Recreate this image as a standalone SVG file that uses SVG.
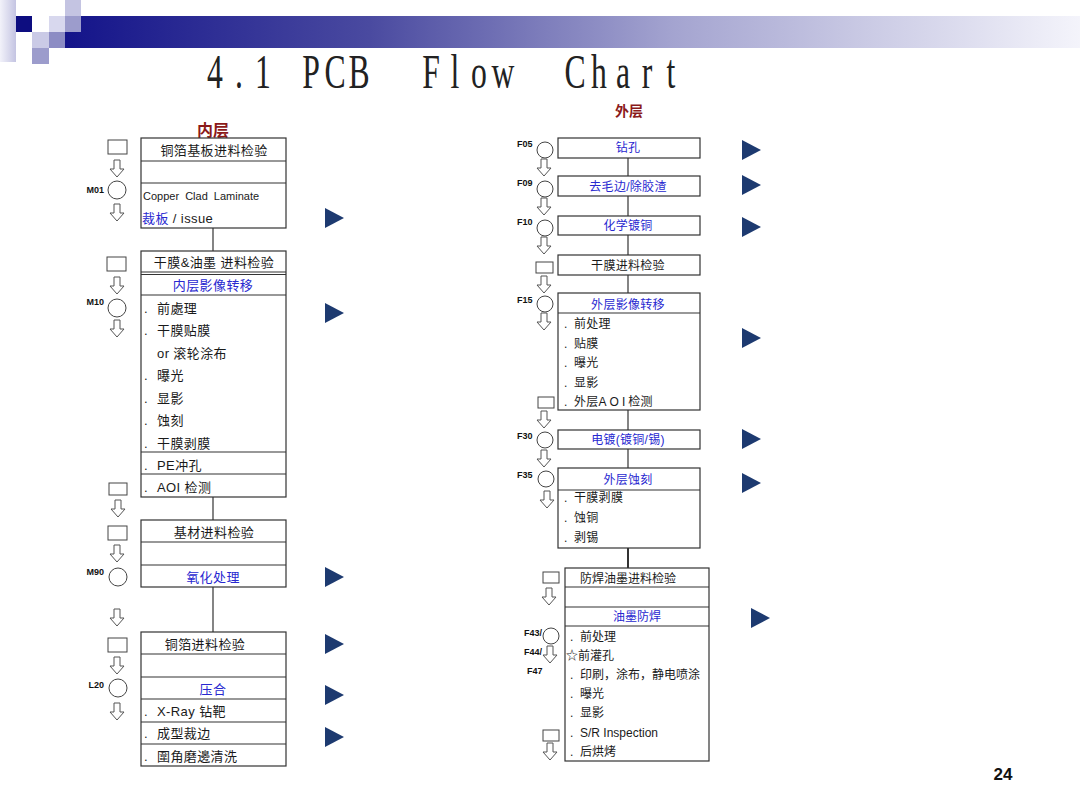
<svg xmlns="http://www.w3.org/2000/svg" width="1080" height="810" viewBox="0 0 1080 810">
<defs>
<linearGradient id="band" x1="0" y1="0" x2="1" y2="0">
<stop offset="0" stop-color="#14148a"/>
<stop offset="0.3" stop-color="#4a4aa0"/>
<stop offset="0.6" stop-color="#a4a4d0"/>
<stop offset="1" stop-color="#f4f4fb"/>
</linearGradient>
<linearGradient id="strip" x1="0" y1="0" x2="1" y2="0">
<stop offset="0" stop-color="#f2f2fa"/>
<stop offset="1" stop-color="#c4c4e2"/>
</linearGradient>
<path id="darr" d="M-3,-9 h6 v9 h4 l-7,8 l-7,-8 h4 z" fill="#fff" stroke="#555" stroke-width="1"/>
<path id="tri" d="M0,-10 L19,0 L0,10 z" fill="#1d3a70"/>
</defs>
<style>
.t{font-family:"Liberation Sans","Noto Sans CJK SC",sans-serif;fill:#1a1a1a}
.l{font-size:13px;letter-spacing:0.4px}
.r{font-size:12px;letter-spacing:0.3px}
.f{font-size:12px}
.b{fill:#2828d0}
.c{text-anchor:middle}
.lab{font-family:"Liberation Sans",sans-serif;font-size:9px;font-weight:bold;fill:#111}
.box{fill:#fff;stroke:#333;stroke-width:1.2}
.ln{stroke:#333;stroke-width:1.2;fill:none}
.sq{fill:#fff;stroke:#444;stroke-width:1}
.ci{fill:#fff;stroke:#444;stroke-width:1}
.hd{font-family:"Liberation Sans","Noto Sans CJK SC",sans-serif;font-weight:bold;fill:#8b1a1a;text-anchor:middle}
</style>
<rect width="1080" height="810" fill="#fff"/>
<!-- decoration -->
<g id="decoration">
<rect x="0" y="0" width="16" height="62" fill="url(#strip)"/>
<rect x="65" y="16" width="1015" height="32" fill="url(#band)"/>
<rect x="65" y="0" width="16" height="16" fill="#c4c4e2"/>
<rect x="16" y="16" width="16" height="16" fill="#0d0d80"/>
<rect x="49" y="16" width="16" height="16" fill="#d8d8ee"/>
<rect x="65" y="16" width="16" height="16" fill="#9c9ccc"/>
<rect x="32" y="32" width="17" height="16" fill="#cacae6"/>
<rect x="49" y="32" width="16" height="16" fill="#8c8cc4"/>
<rect x="32" y="48" width="17" height="16" fill="#9c9ccc"/>
</g>
<g id="title" font-family="'Liberation Serif',serif" font-size="48" fill="#222" text-anchor="middle">
<text transform="scale(0.66,1)" y="88" x="325.76 362.12 398.48 471.21 507.58 543.94 653.03 689.39 725.76 762.12 871.21 907.58 943.94 980.30 1016.67">4.1PCBFlowChart</text>
</g>
<text class="hd" x="213" y="136" font-size="16">内层</text>
<text class="hd" x="629" y="116" font-size="14">外层</text>
<text x="1003" y="780" font-family="'Liberation Sans',sans-serif" font-size="17" font-weight="bold" fill="#111" text-anchor="middle">24</text>

<!-- connectors -->
<g id="connectors" class="ln">
<line x1="213" y1="228" x2="213" y2="251"/>
<line x1="213" y1="497" x2="213" y2="520"/>
<line x1="213" y1="587" x2="213" y2="632"/>
<line x1="213" y1="161" x2="213" y2="183"/>
<line x1="213" y1="542" x2="213" y2="565"/>
<line x1="213" y1="654" x2="213" y2="677"/>
<line x1="628" y1="158" x2="628" y2="176"/>
<line x1="628" y1="196" x2="628" y2="216"/>
<line x1="628" y1="235" x2="628" y2="255"/>
<line x1="628" y1="275" x2="628" y2="293"/>
<line x1="628" y1="410" x2="628" y2="430"/>
<line x1="628" y1="449" x2="628" y2="468"/>
<line x1="628" y1="548" x2="628" y2="568" stroke-width="2"/>
<line x1="629" y1="587" x2="629" y2="607"/>
</g>

<!-- LEFT column -->
<g id="L1">
<rect class="box" x="141" y="138" width="145" height="90"/>
<path class="ln" d="M141,161 H286 M141,183 H286"/>
<text class="t l c" x="214" y="155">铜箔基板进料检验</text>
<text class="t" x="143" y="200" font-size="11" word-spacing="3">Copper Clad Laminate</text>
<text class="t l" x="142" y="223"><tspan class="b">裁板</tspan> / issue</text>
</g>
<g id="L2">
<rect class="box" x="141" y="251" width="145" height="246"/>
<path class="ln" d="M141,272 H286 M141,274.5 H286 M141,295 H286 M141,452 H286 M141,474 H286"/>
<text class="t l c" x="214" y="267">干膜&amp;油墨 进料检验</text>
<text class="t l c b" x="213" y="290">内层影像转移</text>
<g class="t l">
<text x="144" y="313">.</text><text x="157" y="313">前處理</text>
<text x="144" y="335">.</text><text x="157" y="335">干膜贴膜</text>
<text x="157" y="358">or 滚轮涂布</text>
<text x="144" y="380">.</text><text x="157" y="380">曝光</text>
<text x="144" y="403">.</text><text x="157" y="403">显影</text>
<text x="144" y="425">.</text><text x="157" y="425">蚀刻</text>
<text x="144" y="448">.</text><text x="157" y="448">干膜剥膜</text>
<text x="144" y="470">.</text><text x="157" y="470">PE冲孔</text>
<text x="144" y="492">.</text><text x="157" y="492">AOI 检测</text>
</g>
</g>
<g id="L3">
<rect class="box" x="141" y="520" width="145" height="67"/>
<path class="ln" d="M141,542 H286 M141,565 H286"/>
<text class="t l c" x="214" y="537">基材进料检验</text>
<text class="t l c b" x="213" y="582">氧化处理</text>
</g>
<g id="L4">
<rect class="box" x="141" y="632" width="145" height="134"/>
<path class="ln" d="M141,654 H286 M141,677 H286 M141,699 H286 M141,722 H286 M141,744 H286"/>
<text class="t l c" x="205" y="649">铜箔进料检验</text>
<text class="t l c b" x="213" y="694">压合</text>
<g class="t l">
<text x="144" y="716">.</text><text x="157" y="716">X-Ray 钻靶</text>
<text x="144" y="738">.</text><text x="157" y="738">成型裁边</text>
<text x="144" y="761">.</text><text x="157" y="761">圍角磨邊清洗</text>
</g>
</g>
<!-- left symbols -->
<g id="L-symbols">
<rect class="sq" x="108" y="140" width="19" height="14"/>
<use href="#darr" x="117" y="169"/>
<circle class="ci" cx="117" cy="190" r="9"/>
<text class="lab" x="104" y="193" text-anchor="end">M01</text>
<use href="#darr" x="117" y="213"/>
<rect class="sq" x="107" y="257" width="19" height="14"/>
<use href="#darr" x="117" y="286"/>
<circle class="ci" cx="117" cy="308" r="9"/>
<text class="lab" x="104" y="305" text-anchor="end">M10</text>
<use href="#darr" x="117" y="329"/>
<rect class="sq" x="109" y="483" width="18" height="12"/>
<use href="#darr" x="118" y="509"/>
<rect class="sq" x="108" y="526" width="19" height="14"/>
<use href="#darr" x="117" y="554"/>
<circle class="ci" cx="118" cy="577" r="9"/>
<text class="lab" x="104" y="575" text-anchor="end">M90</text>
<use href="#darr" x="117" y="618"/>
<rect class="sq" x="108" y="638" width="19" height="14"/>
<use href="#darr" x="117" y="666"/>
<circle class="ci" cx="118" cy="688" r="9"/>
<text class="lab" x="104" y="688" text-anchor="end">L20</text>
<use href="#darr" x="117" y="712"/>
</g>
<g id="L-markers">
<use href="#tri" x="325" y="218"/>
<use href="#tri" x="325" y="313"/>
<use href="#tri" x="325" y="577"/>
<use href="#tri" x="325" y="644"/>
<use href="#tri" x="325" y="695"/>
<use href="#tri" x="325" y="737"/>
</g>

<!-- RIGHT column -->
<g id="F05"><rect class="box" x="558" y="138" width="142" height="20"/><text class="t r c b" x="628" y="152">钻孔</text></g>
<g id="F09"><rect class="box" x="558" y="176" width="142" height="20"/><text class="t r c b" x="628" y="191">去毛边/除胶渣</text></g>
<g id="F10"><rect class="box" x="558" y="216" width="142" height="19"/><text class="t r c b" x="628" y="230">化学镀铜</text></g>
<g id="R-dry"><rect class="box" x="558" y="255" width="142" height="20"/><text class="t r c" x="628" y="270">干膜进料检验</text></g>
<g id="F15">
<rect class="box" x="558" y="293" width="142" height="117"/>
<path class="ln" d="M558,313 H700"/>
<text class="t r c b" x="628" y="309">外层影像转移</text>
<g class="t r">
<text x="564" y="328">.</text><text x="574" y="328">前处理</text>
<text x="564" y="348">.</text><text x="574" y="348">贴膜</text>
<text x="564" y="367">.</text><text x="574" y="367">曝光</text>
<text x="564" y="387">.</text><text x="574" y="387">显影</text>
<text x="564" y="406">.</text><text x="574" y="406">外层<tspan letter-spacing="3">AOI</tspan>检测</text>
</g>
</g>
<g id="F30"><rect class="box" x="558" y="430" width="142" height="19"/><text class="t r c b" x="628" y="444">电镀(镀铜/锡)</text></g>
<g id="F35">
<rect class="box" x="558" y="468" width="142" height="80"/>
<path class="ln" d="M558,490 H700"/>
<text class="t r c b" x="628" y="484">外层蚀刻</text>
<g class="t r">
<text x="564" y="502">.</text><text x="574" y="502">干膜剥膜</text>
<text x="564" y="522">.</text><text x="574" y="522">蚀铜</text>
<text x="564" y="542">.</text><text x="574" y="542">剥锡</text>
</g>
</g>
<g id="F43">
<rect class="box" x="565" y="568" width="144" height="193"/>
<path class="ln" d="M565,587 H709 M565,607 H709 M565,626 H709"/>
<text class="t f" x="580" y="583">防焊油墨进料检验</text>
<text class="t f c b" x="637" y="621">油墨防焊</text>
<g class="t f">
<text x="570" y="641">.</text><text x="580" y="641">前处理</text>
<text x="566" y="660">☆前灌孔</text>
<text x="570" y="679">.</text><text x="580" y="679">印刷，涂布，静电喷涂</text>
<text x="570" y="698">.</text><text x="580" y="698">曝光</text>
<text x="570" y="717">.</text><text x="580" y="717">显影</text>
<text x="570" y="737">.</text><text x="580" y="737">S/R Inspection</text>
<text x="570" y="756">.</text><text x="580" y="756">后烘烤</text>
</g>
</g>
<g id="R-symbols">
<text class="lab" x="517" y="147">F05</text>
<circle class="ci" cx="545" cy="150" r="8"/>
<use href="#darr" x="544" y="168"/>
<text class="lab" x="517" y="186">F09</text>
<circle class="ci" cx="545" cy="189" r="8"/>
<use href="#darr" x="544" y="207"/>
<text class="lab" x="517" y="225">F10</text>
<circle class="ci" cx="545" cy="228" r="8"/>
<use href="#darr" x="544" y="246"/>
<rect class="sq" x="536" y="262" width="17" height="11"/>
<use href="#darr" x="544" y="285"/>
<text class="lab" x="517" y="303">F15</text>
<circle class="ci" cx="545" cy="304" r="8"/>
<use href="#darr" x="544" y="322"/>
<rect class="sq" x="538" y="397" width="16" height="11"/>
<use href="#darr" x="544" y="420"/>
<text class="lab" x="517" y="439">F30</text>
<circle class="ci" cx="545" cy="440" r="8"/>
<use href="#darr" x="544" y="459"/>
<text class="lab" x="517" y="478">F35</text>
<circle class="ci" cx="546" cy="479" r="8"/>
<use href="#darr" x="547" y="500"/>
<rect class="sq" x="543" y="572" width="16" height="11"/>
<use href="#darr" x="549" y="597"/>
<text class="lab" x="524" y="636">F43/</text>
<circle class="ci" cx="551" cy="636" r="8"/>
<text class="lab" x="524" y="655">F44/</text>
<use href="#darr" x="550" y="655"/>
<text class="lab" x="527" y="674">F47</text>
<rect class="sq" x="543" y="730" width="16" height="11"/>
<use href="#darr" x="550" y="752"/>
</g>
<g id="R-markers">
<use href="#tri" x="742" y="150"/>
<use href="#tri" x="742" y="185"/>
<use href="#tri" x="742" y="227"/>
<use href="#tri" x="742" y="338"/>
<use href="#tri" x="742" y="439"/>
<use href="#tri" x="742" y="483"/>
<use href="#tri" x="751" y="618"/>
</g>
</svg>
